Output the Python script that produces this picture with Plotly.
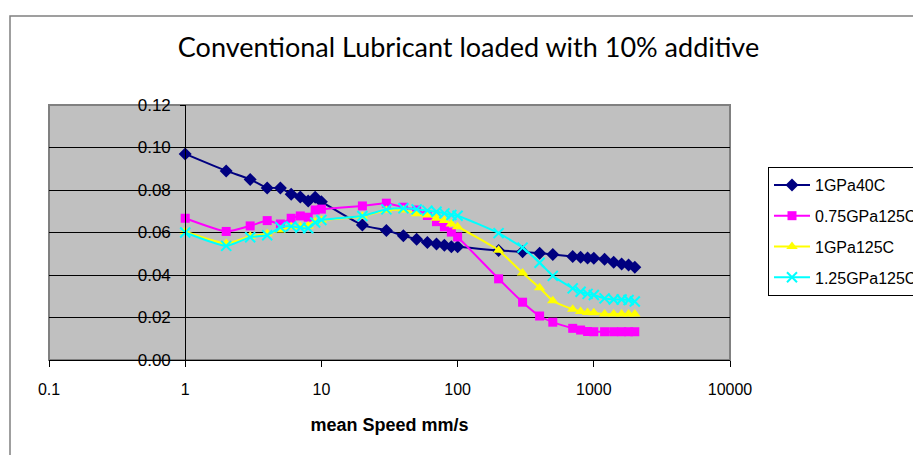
import plotly.graph_objects as go

speed = [1, 2, 3, 4, 5, 6, 7, 8, 9, 10, 20, 30, 40, 50, 60, 70, 80, 90, 100,
         200, 300, 400, 500, 700, 800, 900, 1000, 1200, 1400, 1600, 1800, 2000]

gpa1_40c = [0.097, 0.089, 0.085, 0.081, 0.081, 0.078, 0.0767, 0.0748, 0.0766, 0.0745,
            0.0635, 0.061, 0.0585, 0.0568, 0.0553, 0.0546, 0.054, 0.0533, 0.0533,
            0.0515, 0.051, 0.0502, 0.0497, 0.0487, 0.0483, 0.048, 0.0479,
            0.0474, 0.046, 0.0452, 0.0447, 0.0437]

gpa075_125c = [0.0667, 0.0605, 0.0631, 0.0656, 0.064, 0.0667, 0.0678, 0.0672, 0.0706, 0.071,
               0.0725, 0.0738, 0.0719, 0.0706, 0.068, 0.0651, 0.0627, 0.0602, 0.0579,
               0.0382, 0.0272, 0.0207, 0.0178, 0.0149, 0.0141, 0.0134, 0.0133,
               0.0133, 0.0133, 0.0133, 0.0133, 0.0133]

gpa1_125c = [0.0605, 0.0548, 0.0582, 0.0594, 0.0612, 0.0627, 0.0627, 0.0631, 0.0651, 0.0658,
             0.0676, 0.0705, 0.0706, 0.0688, 0.0682, 0.0667, 0.0656, 0.064, 0.0627,
             0.0516, 0.041, 0.034, 0.0279, 0.0239, 0.0228, 0.0223, 0.0222,
             0.0216, 0.0216, 0.0216, 0.0216, 0.0216]

gpa125_125c = [0.06, 0.0537, 0.0578, 0.0587, 0.0625, 0.0629, 0.0622, 0.062, 0.0647, 0.0659,
               0.0678, 0.0709, 0.0714, 0.0709, 0.0703, 0.0698, 0.069, 0.0682, 0.0679,
               0.0597, 0.0529, 0.0458, 0.0396, 0.0337, 0.0321, 0.0311, 0.0306,
               0.029, 0.0285, 0.0285, 0.0282, 0.0275]

series_names = ["1GPa40C", "0.75GPa125C", "1GPa125C", "1.25GPa125C"]
x_tickvals = [0.1, 1, 10, 100, 1000, 10000]
x_ticktext = ["0.1", "1", "10", "100", "1000", "10000"]
y_tickvals = [0.0, 0.02, 0.04, 0.06, 0.08, 0.10, 0.12]

styles = [
    dict(color="#000080", symbol="diamond", size=10, lw=0),
    dict(color="#FF00FF", symbol="square", size=9, lw=0),
    dict(color="#FFFF00", symbol="triangle-up", size=10, lw=0),
    dict(color="#00FFFF", symbol="x-thin", size=10, lw=2),
]

fig = go.Figure()
for name, ys, st in zip(series_names, [gpa1_40c, gpa075_125c, gpa1_125c, gpa125_125c], styles):
    fig.add_trace(go.Scatter(
        x=speed, y=ys, name=name, mode="lines+markers", legendgroup=name,
        line=dict(color=st["color"], width=2, shape="spline", smoothing=0.5),
        marker=dict(symbol=st["symbol"], size=st["size"], color=st["color"],
                    line=dict(color=st["color"], width=st["lw"])),
    ))

W, H = 921, 455
OFF = 8  # page body margin offset
ml, mr, mt, mb = 41, 199, 97, 103
pw, ph = W - ml - mr, H - mt - mb

def px2paper_x(px):
    return (px - OFF - ml) / pw

def px2paper_y(py):
    return (H - mb - (py - OFF)) / ph

font_fam = "Liberation Sans, Arial, sans-serif"

fig.update_layout(
    width=W, height=H,
    margin=dict(l=ml, r=mr, t=mt, b=mb, pad=0, autoexpand=False),
    paper_bgcolor="white",
    plot_bgcolor="#C0C0C0",
    title=dict(text="Conventional Lubricant loaded with 10% additive",
               x=0.5, xref="container", xanchor="center",
               y=1 - (48 - OFF) / H, yref="container", yanchor="middle",
               font=dict(family="Lato, Open Sans, sans-serif", size=27, color="black")),
    xaxis=dict(type="log", range=[-1, 4], tickvals=x_tickvals, ticktext=x_ticktext,
               showgrid=False, zeroline=False, showline=True, linecolor="black", linewidth=1,
               ticks="outside", ticklen=6, tickcolor="black",
               tickfont=dict(family=font_fam, size=16, color="black"),
               ticklabelstandoff=9,
               title=dict(text="<b>mean Speed mm/s</b>", standoff=21,
                          font=dict(family=font_fam, size=18, color="black"))),
    yaxis=dict(range=[0, 0.12], tickvals=y_tickvals, tickformat=".2f",
               anchor="free", position=0.2, side="left",
               showgrid=True, gridcolor="black", gridwidth=1, zeroline=False,
               showline=True, linecolor="black", linewidth=1,
               ticks="outside", ticklen=5, tickcolor="black",
               ticklabelstandoff=6,
               tickfont=dict(family=font_fam, size=17, color="black")),
    legend=dict(x=px2paper_x(768), y=px2paper_y(167), xanchor="left", yanchor="top",
                bgcolor="white", bordercolor="black", borderwidth=1,
                tracegroupgap=7, itemwidth=36,
                font=dict(family=font_fam, size=16, color="black")),
    showlegend=True,
    shapes=[
        dict(type="rect", xref="paper", yref="paper", x0=0, x1=1, y0=0, y1=1,
             line=dict(color="#808080", width=2), fillcolor="rgba(0,0,0,0)", layer="below"),
        dict(type="rect", xref="paper", yref="paper",
             x0=px2paper_x(10), x1=px2paper_x(960), y0=px2paper_y(490), y1=px2paper_y(16),
             line=dict(color="#808080", width=1.5), fillcolor="rgba(0,0,0,0)", layer="below"),
    ],
)

fig.write_html("out.html")
